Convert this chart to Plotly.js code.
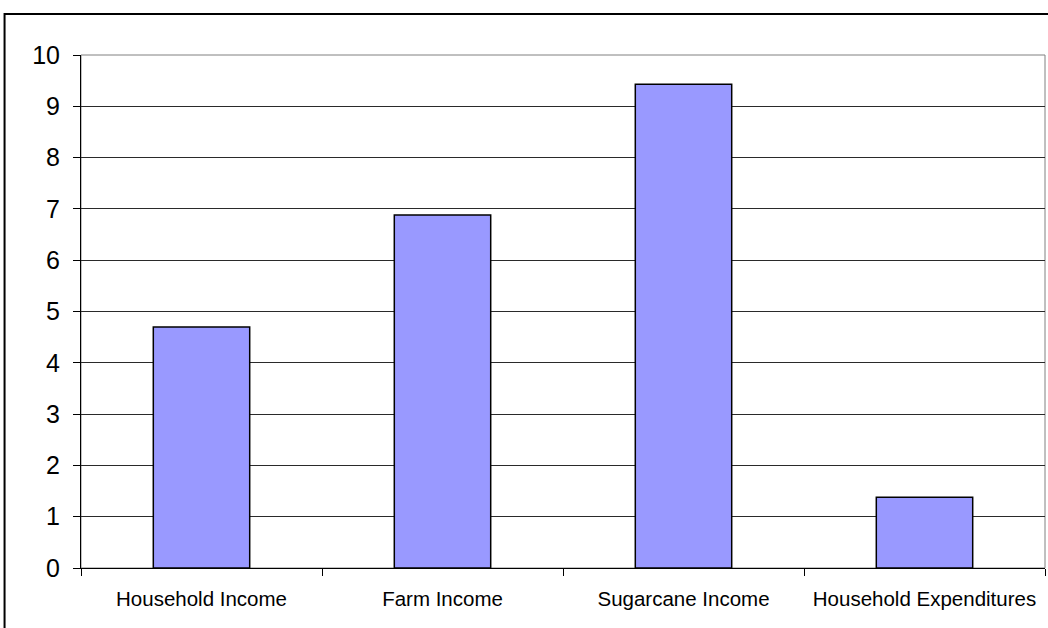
<!DOCTYPE html>
<html>
<head>
<meta charset="utf-8">
<script src="https://cdn.plot.ly/plotly-3.0.1.min.js"></script>
<style>html,body{margin:0;padding:0;background:#fff;}#chart{width:1048px;height:628px;}</style>
</head>
<body>
<div id="chart"></div>
<script>
const categories = ["Household Income", "Farm Income", "Sugarcane Income", "Household Expenditures"];
const values = [4.70, 6.88, 9.43, 1.38];
const yTicks = [0, 1, 2, 3, 4, 5, 6, 7, 8, 9, 10];

const trace = {
  type: "bar",
  x: categories,
  y: values,
  marker: {color: "#9999FF", line: {color: "#000000", width: 1.5}},
  hoverinfo: "x+y"
};

const layout = {
  width: 1048, height: 628,
  margin: {l: 81, r: 3, t: 55, b: 60, pad: 0},
  paper_bgcolor: "#ffffff",
  plot_bgcolor: "#ffffff",
  showlegend: false,
  bargap: 0.6,
  xaxis: {
    type: "category",
    tickson: "boundaries",
    ticks: "outside", ticklen: 7, tickcolor: "#000", tickwidth: 1,
    showline: true, linecolor: "#000", linewidth: 1,
    showgrid: false,
    ticklabelstandoff: 12,
    tickfont: {family: "Arial, Liberation Sans, sans-serif", size: 20.5, color: "#000"}
  },
  yaxis: {
    range: [0, 10],
    tickvals: yTicks,
    ticks: "outside", ticklen: 7, tickcolor: "#000", tickwidth: 1,
    showline: true, linecolor: "#000", linewidth: 1,
    showgrid: true, gridcolor: "#2a2a2a", gridwidth: 1,
    zeroline: false,
    ticklabelstandoff: 8,
    tickfont: {family: "Arial, Liberation Sans, sans-serif", size: 25, color: "#000"}
  },
  shapes: [
    {type: "rect", xref: "paper", yref: "paper", x0: 0, x1: 1, y0: 0, y1: 1,
     line: {color: "#808080", width: 1}, layer: "below"},
    {type: "rect", xref: "paper", yref: "paper", x0: -0.0793, x1: 1.05, y0: -0.25, y1: 1.0799,
     line: {color: "#000000", width: 2}}
  ]
};

Plotly.newPlot("chart", [trace], layout, {displayModeBar: false, staticPlot: true});
</script>
</body>
</html>
